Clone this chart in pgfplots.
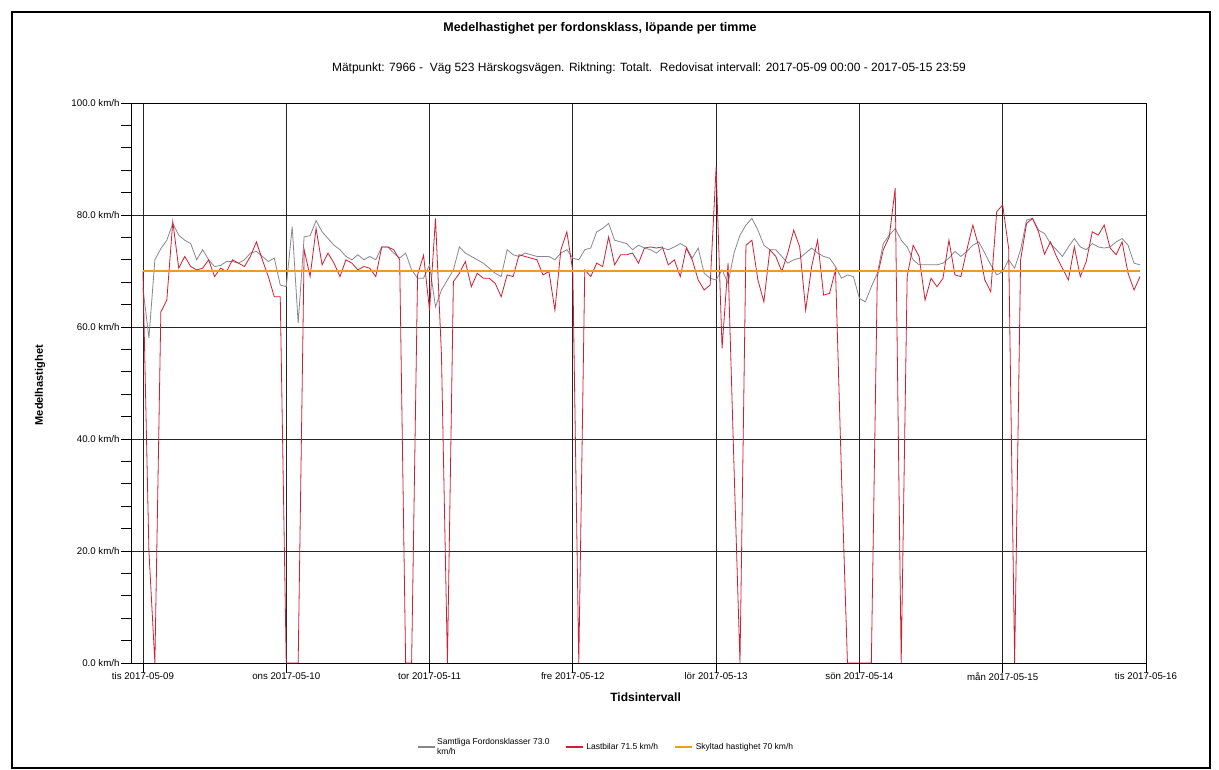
\documentclass[border=0pt]{standalone}
\usepackage{fontspec}
\setmainfont{Liberation Sans}
\usepackage{pgfplots}
\usepackage{pgfplotstable}
\pgfplotsset{compat=1.18}
\definecolor{grayline}{RGB}{135,135,145}
\definecolor{redline}{RGB}{210,30,50}
\definecolor{orangeline}{RGB}{228,160,30}

% Samtliga fordonsklasser, hourly
\pgfplotstableread{
h v
0 67
1 58
2 72
3 74
4 75.5
5 78.5
6 76.4
7 75.5
8 74.9
9 72
10 73.8
11 72
12 70.8
13 71
14 71.7
15 71.7
16 71.4
17 72
18 73.2
19 73.5
20 72.6
21 71.7
22 72.3
23 67.5
24 67.2
25 77.9
26 60.7
27 76.1
28 76.3
29 79
30 77
31 75.8
32 74.6
33 73.8
34 72.6
35 72
36 72.9
37 72
38 72.6
39 72
40 74.3
41 74.3
42 73.2
43 72.3
44 73.2
45 70.2
46 68.7
47 68.7
48 71.1
49 63.6
50 66.6
51 68.4
52 70.2
53 74.3
54 73.2
55 72.6
56 72
57 71.4
58 70.5
59 69.6
60 69
61 73.8
62 72.9
63 72.6
64 73.2
65 72.9
66 72.6
67 72.6
68 72.6
69 72
70 73.2
71 73.8
72 72.3
73 72
74 73.8
75 74.1
76 77
77 77.6
78 78.5
79 75.5
80 75.2
81 74.9
82 73.8
83 74.6
84 74.1
85 73.8
86 73.2
87 74.1
88 73.8
89 74.3
90 74.9
91 74.3
92 72.3
93 74.1
94 69.6
95 68.7
96 68.4
97 70.2
98 67.8
99 73.2
100 76.4
101 78.2
102 79.4
103 77.3
104 74.6
105 73.8
106 73.8
107 72.6
108 71.4
109 72
110 72.3
111 73.2
112 74.1
113 73.2
114 72.6
115 72.3
116 70.8
117 68.7
118 69.3
119 69
120 65.1
121 64.5
122 67.2
123 69.6
124 74.9
125 76.4
126 77.6
127 75.5
128 74.3
129 72
130 71.1
131 71.1
132 71.1
133 71.1
134 71.4
135 72.3
136 73.5
137 72.6
138 73.5
139 74.6
140 75.2
141 73.2
142 71.1
143 69.3
144 69.9
145 72
146 70.5
147 73.8
148 79.1
149 79.4
150 77.3
151 76.7
152 74.9
153 73.8
154 72.6
155 74.3
156 75.8
157 74.3
158 73.8
159 74.9
160 74.3
161 74.1
162 74.3
163 75.2
164 75.8
165 74.6
166 71.4
167 71.1
}\alldata

% Lastbilar, hourly
\pgfplotstableread{
h v
0 70
1 20
2 0
3 62.7
4 64.8
5 78.8
6 70.5
7 72.6
8 70.8
9 70.2
10 70.5
11 72
12 69
13 70.5
14 69.9
15 72
16 71.4
17 70.8
18 72.6
19 75.2
20 72
21 69
22 65.4
23 65.4
24 0
25 0
26 0
27 73.8
28 69
29 77.6
30 71.1
31 73.2
32 71.4
33 69
34 72
35 71.4
36 70.2
37 70.8
38 70.5
39 69
40 74.3
41 74.3
42 73.8
43 72
44 0
45 0
46 69.3
47 72.8
48 63
49 79.4
50 55
51 0
52 68.1
53 69.6
54 71.7
55 67.2
56 69.6
57 68.7
58 68.7
59 67.8
60 65.4
61 69.3
62 69
63 72.9
64 72.6
65 72.3
66 72
67 69.3
68 69.9
69 63
70 73.8
71 77
72 70
73 0
74 70.2
75 69
76 71.4
77 70.8
78 76.1
79 71.1
80 72.9
81 72.9
82 73.2
83 71.4
84 74.1
85 74.3
86 74.1
87 74.3
88 71.1
89 72
90 69
91 74.1
92 72
93 68.4
94 66.6
95 67.5
96 88.5
97 56.2
98 71.4
99 35
100 0
101 74.6
102 75.5
103 68.4
104 64.5
105 73.8
106 72.6
107 69.9
108 73.2
109 77.3
110 74.3
111 63
112 70.8
113 75.5
114 65.7
115 66
116 70.2
117 33.6
118 0
119 0
120 0
121 0
122 0
123 69
124 73.8
125 76.1
126 84.8
127 0
128 69
129 74.6
130 72.6
131 64.8
132 68.7
133 67.2
134 68.7
135 75.5
136 69.3
137 69
138 73.8
139 78.2
140 74.3
141 68.4
142 66.3
143 80.6
144 81.8
145 74
146 0
147 72
148 78.5
149 79.4
150 77
151 73
152 75.2
153 72.6
154 70.5
155 68.4
156 74.3
157 69
158 71.7
159 77
160 76.4
161 78.2
162 74.1
163 72.9
164 75.2
165 69.6
166 66.6
167 69
}\truckdata

\begin{document}
\begin{tikzpicture}[x=1pt,y=1pt]
\useasboundingbox (0,0) rectangle (1219,-770);
\fill[white] (0,0) rectangle (1219,-770);
\draw[line width=1.5pt] (12,-12) rectangle (1210,-768);
\node[font=\bfseries\fontsize{12.5}{14}\selectfont] at (600,-28) {Medelhastighet per fordonsklass, löpande per timme};
\node[font=\fontsize{12}{14}\selectfont] at (649,-68) {Mätpunkt: 7966 - \ Väg 523 Härskogsvägen. Riktning: Totalt. \ Redovisat intervall: 2017-05-09 00:00 - 2017-05-15 23:59};
\begin{axis}[
  at={(131pt,-663pt)}, anchor=south west,
  width=1015pt, height=560pt, scale only axis,
  xmin=-2, xmax=168, ymin=0, ymax=100,
  xtick={0,24,...,168},
  xticklabels={tis 2017-05-09, ons 2017-05-10, tor 2017-05-11, fre 2017-05-12, lör 2017-05-13, sön 2017-05-14, mån 2017-05-15, tis 2017-05-16},
  ytick={0,20,...,100},
  yticklabels={0.0 km/h, 20.0 km/h, 40.0 km/h, 60.0 km/h, 80.0 km/h, 100.0 km/h},
  minor y tick num=4,
  xtick pos=bottom, ytick pos=left,
  tick align=outside,
  major tick length=10pt, minor tick length=10pt,
  tick style={black, line width=0.7pt},
  grid=major,
  major grid style={black!85, line width=0.8pt},
  axis line style={black, line width=0.9pt},
  /pgf/number format/assume math mode=true,
  tick label style={font=\fontsize{9.7}{11}\selectfont},
  x tick label style={yshift=4pt},
  y tick label style={xshift=2pt},
  xlabel={Tidsintervall},
  xlabel style={font=\bfseries\fontsize{12}{14}\selectfont, at={(axis description cs:0.507,-0.061)}, anchor=center},
  ylabel={Medelhastighet},
  ylabel style={font=\bfseries\fontsize{11}{13}\selectfont, at={(axis description cs:-0.0897,0.496)}, anchor=center},
  legend style={at={(0.468,-0.15)}, anchor=center, draw=none, fill=none,
    legend columns=3, font=\fontsize{8.5}{9.5}\selectfont, cells={align=left},
    /tikz/every even column/.append style={column sep=14pt}},
  legend cell align=left,
]
\addplot[grayline, line width=0.8pt, legend image post style={line width=1.2pt}] table[x=h,y=v] {\alldata};
\addlegendentry{Samtliga Fordonsklasser 73.0\\km/h}
\addplot[redline, line width=0.8pt, legend image post style={line width=1.6pt}] table[x=h,y=v] {\truckdata};
\addlegendentry{Lastbilar 71.5 km/h}
\addplot[orangeline, line width=2.6pt] coordinates {(0,70) (167,70)};
\addlegendentry{Skyltad hastighet 70 km/h}
\end{axis}
\end{tikzpicture}
\end{document}
